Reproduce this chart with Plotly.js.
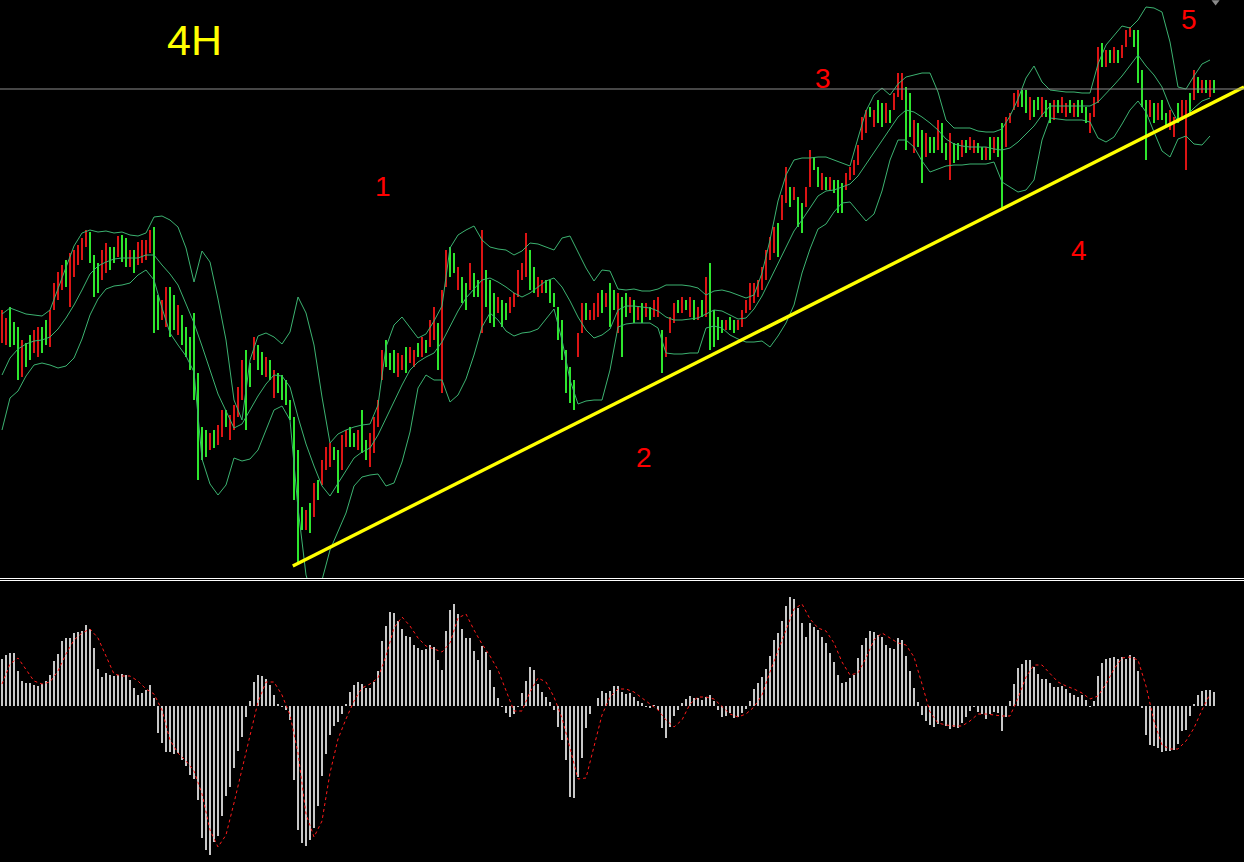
<!DOCTYPE html>
<html><head><meta charset="utf-8">
<script src="https://cdn.plot.ly/plotly-3.0.1.min.js"></script>
<style>html,body{margin:0;padding:0;background:#000;}#chart{width:1244px;height:862px;}</style>
</head><body><div id="chart"></div>
<script>
// ---- price bars (4H), in price points ----
const barHigh = [
268,260,271,256,251,238,235,243,248,251,
251,258,268,295,306,313,318,325,328,333,
340,348,346,323,315,328,335,331,331,342,
343,340,328,328,336,338,338,348,351,283,
278,291,291,283,273,263,251,241,265,205,
151,148,145,148,153,168,168,163,173,191,
218,228,215,241,233,226,221,218,208,205,
203,198,178,161,128,71,68,75,95,98,
118,131,135,131,128,143,148,151,145,148,
168,138,145,161,178,228,238,225,228,225,
223,231,231,228,235,241,238,258,271,255,
288,328,331,325,311,301,295,315,305,298,
348,308,298,285,281,278,275,281,285,308,
315,345,328,311,301,298,298,298,285,271,
258,228,211,198,245,275,275,268,275,285,
288,285,295,288,285,281,285,281,278,271,
275,275,271,278,281,248,241,261,275,278,
281,278,281,278,271,278,301,315,268,261,
258,258,261,258,258,268,278,295,295,298,
311,328,341,351,355,383,411,391,391,381,
375,391,428,421,411,405,401,401,398,398,
395,405,411,418,433,461,468,471,468,478,
475,475,468,485,505,505,491,485,458,455,
448,445,441,441,458,455,435,445,435,435,
438,438,441,438,435,431,431,441,441,441,
455,461,465,485,488,488,488,481,478,481,
481,478,475,478,478,481,475,478,475,478,
478,471,465,481,531,535,528,528,531,528,
533,548,551,548,548,508,478,478,475,475,
478,465,468,461,475,478,478,485,508,501,
498,498,498,498];
const barLow = [
235,233,231,233,198,201,211,218,225,221,
225,233,231,268,278,288,291,271,301,313,
318,331,315,281,285,298,305,308,315,321,
316,311,311,305,313,315,318,325,245,248,
258,251,241,248,243,233,221,208,178,98,
118,121,128,130,133,141,151,138,148,161,
178,148,191,218,208,203,201,198,180,185,
178,173,158,78,15,48,48,45,61,78,
93,108,111,118,85,108,131,131,131,128,
125,118,111,125,151,198,211,208,205,201,
208,205,215,211,221,221,225,231,238,208,
185,291,301,305,288,275,268,288,281,281,
245,271,255,251,265,251,258,265,271,281,
298,301,288,285,281,285,285,275,271,238,
218,185,175,168,221,245,258,258,258,261,
265,271,251,268,245,221,261,265,255,258,
255,261,258,261,261,205,221,245,255,265,
265,268,261,258,258,261,261,228,231,238,
245,248,248,245,248,251,265,268,275,281,
288,298,318,325,321,358,375,371,378,351,
345,371,391,408,391,388,388,388,385,365,
365,388,398,403,413,438,445,461,451,455,
451,455,455,468,481,478,428,441,425,431,
395,421,425,425,428,425,418,398,415,418,
421,425,428,425,425,418,418,418,425,421,
368,431,455,468,471,471,465,458,461,468,
461,461,455,458,465,465,461,465,461,461,
465,455,445,461,475,511,511,515,515,515,
520,531,541,531,495,471,418,461,455,458,
458,451,448,441,455,458,408,465,478,485,
485,485,481,485];
// u = up bar (drawn red), d = down bar (drawn green)
const barDir = [
"uudddudduu","dduuuuduuu","uuddduuddu","dduduuuudd","uudduddddd",
"dduduuduuu","udduddudud","ddddddudud","uuudduuddu","dduuuudddu",
"uduududuud","uudduddudd","udddudduuu","uudduudddd","dddduuduuu",
"dudduddudu","duduuduuud","ududududdd","dudduuuuuu","uuuuduudud",
"duuddududd","duuuuuudud","duduuuddud","dudduddudd","uduuddudud",
"duuuuddudd","udduduudud","dduuududud","uuuddddudu","dduuduudud",
"udud"].join("");

// ---- Bollinger bands, one value every 2 bars ----
const bbUpper = [
264,270,267,264,263,262,268,289,309,332,
345,348,346,347,345,346,343,342,345,361,
362,358,351,330,296,327,316,279,238,178,
158,218,242,245,241,234,246,281,265,233,
181,135,144,148,151,153,154,173,231,253,
261,250,240,244,257,272,330,343,348,352,
338,331,329,328,323,327,335,334,331,328,
340,342,326,310,297,308,307,289,288,289,
287,287,289,293,293,293,292,290,283,287,
288,286,283,280,283,305,338,377,403,418,
420,420,421,421,418,415,412,440,467,483,
490,483,494,501,503,505,505,486,458,450,
450,450,447,446,446,449,462,479,500,512,
496,488,487,486,486,485,485,514,533,542,
552,550,558,571,570,566,536,491,489,502,
514,518];
const bbMiddle = [
203,220,229,234,237,238,241,249,260,273,
288,304,312,316,319,320,320,320,323,323,
313,304,293,273,255,232,208,184,167,150,
154,168,182,194,203,202,191,161,134,112,
92,82,95,108,120,126,130,143,160,176,
193,208,216,221,225,236,251,267,280,289,
298,300,296,291,285,281,285,291,297,300,
291,277,261,248,240,243,249,268,272,272,
271,270,267,261,258,258,259,260,264,268,
267,263,259,260,269,282,298,314,330,347,
358,370,382,387,388,391,394,402,414,426,
438,449,461,468,466,461,455,448,439,434,
432,431,431,431,429,428,430,436,444,452,
463,472,472,472,472,472,472,476,484,493,
502,512,523,512,503,491,471,456,462,470,
477,480];
const bbLower = [
148,180,187,202,213,215,213,210,212,220,
239,263,279,289,292,293,295,303,308,298,
270,245,233,222,206,119,94,83,93,120,
117,119,128,148,168,172,158,70,3,-22,
-2,28,47,65,92,101,103,104,92,95,
116,146,190,203,198,198,176,183,199,223,
251,265,258,247,242,245,246,249,259,269,
238,198,174,177,178,178,208,251,254,255,
255,255,250,225,224,224,225,225,250,252,
250,243,239,236,236,237,231,242,255,273,
305,329,349,354,366,375,376,366,357,364,
387,418,438,438,431,417,406,409,412,413,
413,414,414,414,416,396,391,386,388,398,
438,460,459,458,458,458,456,440,436,441,
454,468,477,466,446,427,421,439,442,434,
433,442];

// ---- MACD histogram (per bar) and signal (every 2 bars) ----
const macdHist = [
47,51,53,53,35,25,23,23,21,20,
22,25,31,45,52,65,68,68,73,74,
75,81,77,58,37,29,33,31,30,31,
32,31,26,18,11,13,16,21,8,-27,
-37,-46,-46,-48,-47,-54,-60,-69,-73,-94,
-132,-144,-149,-136,-130,-110,-90,-81,-62,-45,
-31,-11,5,24,31,30,27,21,11,2,
-1,-4,-14,-74,-124,-137,-140,-134,-122,-100,
-70,-48,-29,-20,-16,-8,2,14,21,24,
22,18,18,24,35,65,80,94,93,85,
77,70,69,61,58,56,57,61,59,46,
36,75,96,102,92,77,68,68,55,46,
60,54,36,19,8,-1,-7,-11,-8,-1,
13,25,39,36,22,14,9,4,-4,-21,
-34,-54,-91,-92,-71,-52,-22,-8,0,8,
15,13,15,20,20,14,12,13,9,5,
3,-1,-2,1,-4,-22,-32,-21,-10,-4,
3,7,10,8,8,6,9,11,5,-4,
-11,-10,-7,-12,-11,-7,-3,5,17,23,
29,37,50,66,73,85,100,109,107,98,
83,69,83,79,76,69,63,53,44,31,
23,24,28,31,48,61,68,75,74,71,
69,61,58,57,68,66,50,35,18,4,
-9,-15,-19,-21,-18,-15,-20,-23,-21,-22,
-17,-11,-5,-1,-6,-8,-13,-8,-6,-7,
-25,-11,5,22,38,42,46,46,39,32,
27,27,23,19,19,20,17,13,11,9,
11,6,-1,5,30,43,47,48,49,47,
49,47,51,49,35,-2,-29,-39,-40,-42,
-46,-45,-45,-44,-38,-25,-24,-10,2,11,
15,16,16,14];
const macdSignal = [
22,42,48,37,25,22,24,35,52,66,
73,77,68,50,32,30,30,25,17,12,
-4,-34,-47,-55,-65,-88,-124,-141,-129,-97,
-63,-28,4,24,24,11,-9,-47,-108,-131,
-115,-67,-33,-13,5,18,22,28,50,78,
89,80,68,60,57,54,63,88,92,76,
62,50,36,16,-5,-5,14,28,24,9,
-12,-42,-73,-72,-40,-9,9,17,17,14,
8,2,-4,-14,-21,-14,2,9,9,7,
-1,-8,-11,-8,-1,11,34,54,76,97,
102,87,78,75,63,44,31,33,48,66,
73,68,63,61,49,22,-6,-17,-19,-20,
-20,-15,-8,-8,-9,-10,-10,8,29,41,
41,32,24,20,17,13,7,10,22,37,
48,49,46,20,-15,-39,-43,-43,-35,-22,
-4,12];

// ---- drawn objects ----
const levelPrice = 489;           // horizontal level
const trendX = [72.7, 310.5];      // support trend line (bar index)
const trendY = [12, 491];          // support trend line (price)

function barSegments(kind) {
  const x = [], y = [];
  for (let i = 0; i < barHigh.length; i++) {
    if ((barDir[i] || 'd') === kind) {
      x.push(i, i, null);
      y.push(barLow[i], barHigh[i], null);
    }
  }
  return {x, y};
}
const upB = barSegments('u'), dnB = barSegments('d');
const bbX = bbUpper.map((_, k) => 2 * k);
const sigX = macdSignal.map((_, k) => 2 * k);
const histX = macdHist.map((_, i) => i);

const bbColor = '#3cb371';
const traces = [
  {type:'scatter', mode:'lines', x: upB.x, y: upB.y, line:{color:'#dc1414', width:2}, xaxis:'x', yaxis:'y', hoverinfo:'skip'},
  {type:'scatter', mode:'lines', x: dnB.x, y: dnB.y, line:{color:'#2ee62e', width:2}, xaxis:'x', yaxis:'y', hoverinfo:'skip'},
  {type:'scatter', mode:'lines', x: bbX, y: bbUpper, line:{color:bbColor, width:1}, xaxis:'x', yaxis:'y'},
  {type:'scatter', mode:'lines', x: bbX, y: bbMiddle, line:{color:bbColor, width:1}, xaxis:'x', yaxis:'y'},
  {type:'scatter', mode:'lines', x: bbX, y: bbLower, line:{color:bbColor, width:1}, xaxis:'x', yaxis:'y'},
  {type:'scatter', mode:'lines', x: trendX, y: trendY, line:{color:'#ffff00', width:3.4}, xaxis:'x', yaxis:'y'},
  {type:'scatter', mode:'markers', x:[303.4], y:[576], marker:{symbol:'triangle-down', size:7, color:'#8a8a8a'}, cliponaxis:false, xaxis:'x', yaxis:'y'},
  {type:'bar', x: histX, y: macdHist, width:0.5, marker:{color:'#c8c8c8', line:{width:0}}, xaxis:'x2', yaxis:'y2'},
  {type:'scatter', mode:'lines', x: sigX, y: macdSignal, line:{color:'#ff1a1a', width:1, dash:'dot'}, xaxis:'x2', yaxis:'y2'}
];

const H = 862, W = 1244;
const topBottom = 1 - 578 / H;
const botTop = 1 - 581 / H;
const xr = [-0.5, 310.5];
const font = 'Liberation Sans, Arial, sans-serif';
function lbl(text, px, py, size, color) {
  return {text, x: px / W, y: 1 - py / H, xref:'paper', yref:'paper', showarrow:false,
          xanchor:'center', yanchor:'middle', font:{family:font, size, color}};
}
const layout = {
  width: W, height: H,
  margin:{l:0, r:0, t:0, b:0, pad:0},
  paper_bgcolor:'#000', plot_bgcolor:'#000',
  showlegend:false, hovermode:false, bargap:0,
  xaxis:{domain:[0,1], range:xr, anchor:'y', showgrid:false, zeroline:false, showticklabels:false, ticks:'',
         showline:true, linecolor:'#ffffff', linewidth:1},
  yaxis:{domain:[topBottom,1], range:[0,578], visible:false},
  xaxis2:{domain:[0,1], range:xr, anchor:'y2', side:'top', showgrid:false, zeroline:false, showticklabels:false, ticks:'',
          showline:true, linecolor:'#ffffff', linewidth:1},
  yaxis2:{domain:[0,botTop], range:[-156,125], visible:false},
  shapes:[
    {type:'line', xref:'paper', x0:0, x1:1, yref:'y', y0:levelPrice, y1:levelPrice, line:{color:'#8c8c8c', width:1}}
  ],
  annotations:[
    lbl('4H', 195, 40, 43, '#ffff00'),
    lbl('1', 383, 186, 28, '#ff0000'),
    lbl('2', 644, 457, 28, '#ff0000'),
    lbl('3', 823, 78, 28, '#ff0000'),
    lbl('4', 1079, 250, 28, '#ff0000'),
    lbl('5', 1189, 19, 28, '#ff0000')
  ]
};
Plotly.newPlot('chart', traces, layout, {staticPlot:true, displayModeBar:false});
</script>
</body></html>
